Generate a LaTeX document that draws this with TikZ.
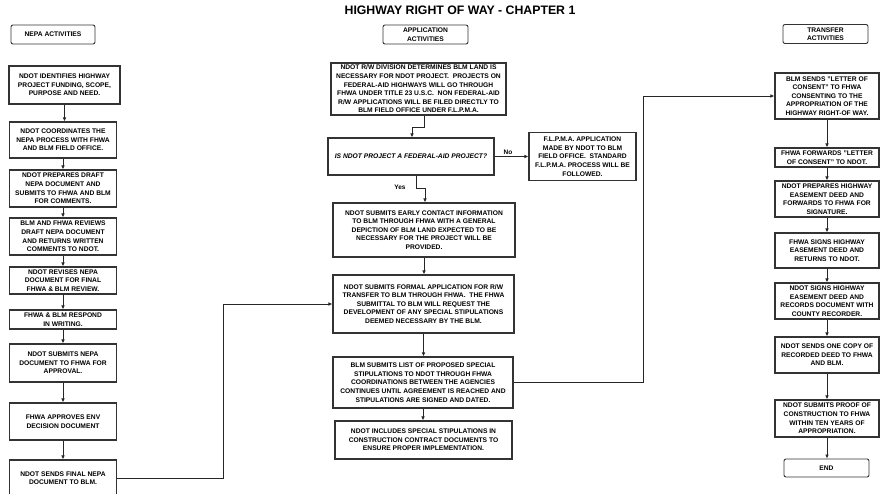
\documentclass[tikz,border=0pt]{standalone}
\usepackage{fontspec}
\setmainfont{Liberation Sans}
\usepackage{tikz}
\usetikzlibrary{positioning,arrows.meta}
\newcommand{\boxfont}{\fontsize{6.7}{8.6}\selectfont\bfseries}
\tikzset{
  flowarrow/.style={-{Latex[length=4pt,width=3.6pt]}, line width=0.8pt, draw=black!85},
  flowline/.style={line width=0.8pt, draw=black!85},
  stepbox/.style={draw=black!80, line width=1.1pt, align=center, inner sep=1pt},
  headbox/.style={draw=black!80, line width=0.9pt, rounded corners=2pt, align=center, inner sep=1pt, minimum width=85pt, minimum height=19pt},
  relabel/.style={font=\fontsize{6.5}{7}\selectfont\bfseries, inner sep=1pt}
}
\begin{document}
\begin{tikzpicture}[x=1pt, y=-1pt, every node/.style={font=\boxfont}]
  \useasboundingbox (0,0) rectangle (880,494);
  \node[font=\fontsize{12.3}{14}\selectfont\bfseries] (title) at (460,10) {HIGHWAY RIGHT OF WAY - CHAPTER 1};

  % NEPA column
  \node[headbox, minimum width=84pt] (nepahead) at (53,34.5) {NEPA ACTIVITIES};
  \node[stepbox, minimum width=111pt, minimum height=38pt] (L1) at (64.5,85) {NDOT IDENTIFIES HIGHWAY\\PROJECT FUNDING, SCOPE,\\PURPOSE AND NEED.};
  \node[stepbox, minimum width=107pt, minimum height=36pt] (L2) at (63,140) {NDOT COORDINATES THE\\NEPA PROCESS WITH FHWA\\AND BLM FIELD OFFICE.};
  \node[stepbox, minimum width=107pt, minimum height=37pt] (L3) at (63,188.5) {NDOT PREPARES DRAFT\\NEPA DOCUMENT AND\\SUBMITS TO FHWA AND BLM\\FOR COMMENTS.};
  \node[stepbox, minimum width=107pt, minimum height=37pt] (L4) at (63,236.5) {BLM AND FHWA REVIEWS\\DRAFT NEPA DOCUMENT\\AND RETURNS WRITTEN\\COMMENTS TO NDOT.};
  \node[stepbox, minimum width=107pt, minimum height=27pt] (L5) at (63,280.5) {NDOT REVISES NEPA\\DOCUMENT FOR FINAL\\FHWA \& BLM REVIEW.};
  \node[stepbox, minimum width=107pt, minimum height=19pt] (L6) at (63,319.5) {FHWA \& BLM RESPOND\\IN WRITING.};
  \node[stepbox, minimum width=107pt, minimum height=38pt] (L7) at (63,363) {NDOT SUBMITS NEPA\\DOCUMENT TO FHWA FOR\\APPROVAL.};
  \node[stepbox, minimum width=107pt, minimum height=37pt] (L8) at (63,421.5) {FHWA APPROVES ENV\\DECISION DOCUMENT};
  \node[stepbox, minimum width=107pt, minimum height=36pt] (L9) at (63,478) {NDOT SENDS FINAL NEPA\\DOCUMENT TO BLM.};

  % application column
  \node[headbox] (apphead) at (425.5,34.5) {APPLICATION\\ACTIVITIES};
  \node[stepbox, minimum width=175pt, minimum height=52pt] (M1) at (418.5,89) {NDOT R/W DIVISION DETERMINES BLM LAND IS\\NECESSARY FOR NDOT PROJECT.\ \ PROJECTS ON\\FEDERAL-AID HIGHWAYS WILL GO THROUGH\\FHWA UNDER TITLE 23 U.S.C.\ \ NON FEDERAL-AID\\R/W APPLICATIONS WILL BE FILED DIRECTLY TO\\BLM FIELD OFFICE UNDER F.L.P.M.A.};
  \node[stepbox, minimum width=166pt, minimum height=37pt, font=\boxfont\itshape] (M2) at (411,156.5) {IS NDOT PROJECT A FEDERAL-AID PROJECT?};
  \node[stepbox, minimum width=107pt, minimum height=48pt] (flpma) at (582.5,156.5) {F.L.P.M.A. APPLICATION\\MADE BY NDOT TO BLM\\FIELD OFFICE.\ \ STANDARD\\F.L.P.M.A. PROCESS WILL BE\\FOLLOWED.};
  \node[stepbox, minimum width=182pt, minimum height=54pt] (M3) at (424,230) {NDOT SUBMITS EARLY CONTACT INFORMATION\\TO BLM THROUGH FHWA WITH A GENERAL\\DEPICTION OF BLM LAND EXPECTED TO BE\\NECESSARY FOR THE PROJECT WILL BE\\PROVIDED.};
  \node[stepbox, minimum width=181pt, minimum height=58pt] (M4) at (423.5,304) {NDOT SUBMITS FORMAL APPLICATION FOR R/W\\TRANSFER TO BLM THROUGH FHWA.\ \ THE FHWA\\SUBMITTAL TO BLM WILL REQUEST THE\\DEVELOPMENT OF ANY SPECIAL STIPULATIONS\\DEEMED NECESSARY BY THE BLM.};
  \node[stepbox, minimum width=180pt, minimum height=51pt] (M5) at (423,382.5) {BLM SUBMITS LIST OF PROPOSED SPECIAL\\STIPULATIONS TO NDOT THROUGH FHWA\\COORDINATIONS BETWEEN THE AGENCIES\\CONTINUES UNTIL AGREEMENT IS REACHED AND\\STIPULATIONS ARE SIGNED AND DATED.};
  \node[stepbox, minimum width=177pt, minimum height=38pt] (M6) at (423.5,440) {NDOT INCLUDES SPECIAL STIPULATIONS IN\\CONSTRUCTION CONTRACT DOCUMENTS TO\\ENSURE PROPER IMPLEMENTATION.};

  % transfer column
  \node[headbox] (transhead) at (825.5,34) {TRANSFER\\ACTIVITIES};
  \node[stepbox, minimum width=104pt, minimum height=46pt] (R1) at (827,96) {BLM SENDS "LETTER OF\\CONSENT" TO FHWA\\CONSENTING TO THE\\APPROPRIATION OF THE\\HIGHWAY RIGHT-OF WAY.};
  \node[stepbox, minimum width=104pt, minimum height=19pt] (R2) at (827,157.5) {FHWA FORWARDS "LETTER\\OF CONSENT" TO NDOT.};
  \node[stepbox, minimum width=104pt, minimum height=36pt] (R3) at (827,199) {NDOT PREPARES HIGHWAY\\EASEMENT DEED AND\\FORWARDS TO FHWA FOR\\SIGNATURE.};
  \node[stepbox, minimum width=104pt, minimum height=35pt] (R4) at (827,250.5) {FHWA SIGNS HIGHWAY\\EASEMENT DEED AND\\RETURNS TO NDOT.};
  \node[stepbox, minimum width=104pt, minimum height=36pt] (R5) at (827,301) {NDOT SIGNS HIGHWAY\\EASEMENT DEED AND\\RECORDS DOCUMENT WITH\\COUNTY RECORDER.};
  \node[stepbox, minimum width=104pt, minimum height=36pt] (R6) at (827,355) {NDOT SENDS ONE COPY OF\\RECORDED DEED TO FHWA\\AND BLM.};
  \node[stepbox, minimum width=104pt, minimum height=37pt] (R7) at (827,418.5) {NDOT SUBMITS PROOF OF\\CONSTRUCTION TO FHWA\\WITHIN TEN YEARS OF\\APPROPRIATION.};
  \node[headbox, minimum height=18pt] (finish) at (826.5,468) {END};

  % straight arrows
  \foreach \a/\b in {L1/L2,L2/L3,L3/L4,L4/L5,L5/L6,L6/L7,L7/L8,L8/L9,M3/M4,M4/M5,M5/M6,R1/R2,R2/R3,R3/R4,R4/R5,R5/R6,R6/R7,R7/finish}
    \draw[flowarrow] (\a.south) -- (\a.south |- \b.north);

  % bends
  \coordinate (bendA) at (424,127);
  \coordinate (bendB) at (412,127);
  \draw[flowarrow] (M1.south -| bendA) -- (bendA) -- (bendB) -- (bendB |- M2.north);
  \coordinate (bendC) at (416,188);
  \coordinate (bendD) at (425,188);
  \draw[flowarrow] (M2.south -| bendC) -- (bendC) -- (bendD) -- (bendD |- M3.north);
  \node[relabel] (yes) at (400,187) {Yes};
  \draw[flowarrow] (M2.east) -- (M2.east -| flpma.west);
  \node[relabel] (no) at (508,152) {No};

  % cross-column links
  \coordinate (jogL) at (223,304);
  \draw[flowarrow] (L9.east) -| (jogL) -- (M4.west);
  \coordinate (jogR) at (643,96);
  \draw[flowarrow] (M5.east) -| (jogR) -- (R1.west);
\end{tikzpicture}
\end{document}
